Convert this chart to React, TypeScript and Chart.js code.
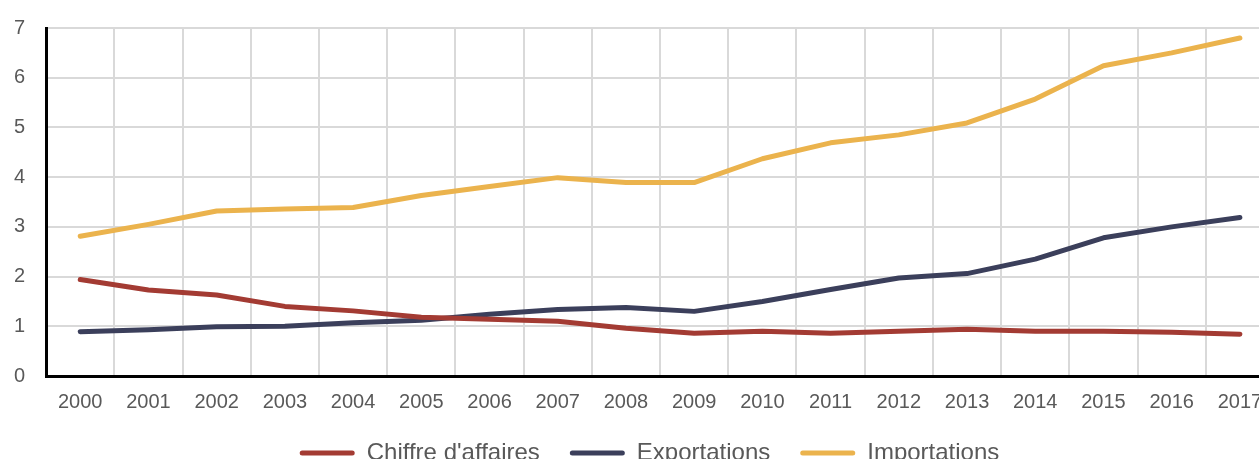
import React, { useEffect, useRef } from "react";
import { Chart, registerables } from "chart.js";

Chart.register(...registerables);

const years = ["2000","2001","2002","2003","2004","2005","2006","2007","2008","2009","2010","2011","2012","2013","2014","2015","2016","2017"];
const chiffreAffaires = [1.94, 1.73, 1.63, 1.40, 1.31, 1.18, 1.14, 1.10, 0.96, 0.86, 0.90, 0.86, 0.90, 0.94, 0.90, 0.90, 0.88, 0.84];
const exportations = [0.89, 0.93, 0.99, 1.00, 1.07, 1.12, 1.24, 1.34, 1.38, 1.30, 1.50, 1.74, 1.97, 2.06, 2.35, 2.78, 3.00, 3.19];
const importations = [2.81, 3.05, 3.32, 3.36, 3.39, 3.63, 3.81, 3.99, 3.89, 3.89, 4.37, 4.69, 4.85, 5.09, 5.57, 6.24, 6.50, 6.80];
const seriesNames = ["Chiffre d'affaires", "Exportations", "Importations"];
const seriesColors = ["#A33B33", "#3B3F5B", "#EBB34D"];

const FONT = "'Liberation Sans', Arial, Helvetica, sans-serif";
const LEGEND_SHIFT_Y = 17;
const LEGEND_SHIFT_X = 16;

const legendShift = {
  id: "legendShift",
  afterLayout(chart: any) {
    const lg = chart.legend;
    if (lg) {
      lg.top -= LEGEND_SHIFT_Y;
      lg.bottom -= LEGEND_SHIFT_Y;
      lg.left += LEGEND_SHIFT_X;
      lg.right += LEGEND_SHIFT_X;
    }
  },
};

export default function App() {
  const ref = useRef<HTMLCanvasElement | null>(null);
  useEffect(() => {
    if (!ref.current) return;
    const values = [chiffreAffaires, exportations, importations];
    const chart = new Chart(ref.current, {
      type: "line",
      data: {
        labels: years,
        datasets: values.map((v, i) => ({
          label: seriesNames[i],
          data: v,
          borderColor: seriesColors[i],
          backgroundColor: seriesColors[i],
          borderWidth: 5,
          pointRadius: 0,
          tension: 0,
          borderCapStyle: "round" as const,
          borderJoinStyle: "round" as const,
        })),
      },
      options: {
        responsive: false,
        animation: false,
        devicePixelRatio: 1,
        layout: { padding: { left: -7, right: 26, top: 22, bottom: 0 } },
        plugins: {
          tooltip: { enabled: false },
          legend: {
            position: "bottom",
            labels: {
              boxWidth: 55,
              boxHeight: 5,
              padding: 30,
              color: "#595959",
              font: { family: FONT, size: 24 },
              generateLabels: (c: any) =>
                c.data.datasets.map((d: any, i: number) => ({
                  text: d.label,
                  fillStyle: d.borderColor,
                  strokeStyle: d.borderColor,
                  lineWidth: 0,
                  fontColor: "#595959",
                  borderRadius: 2.5,
                  datasetIndex: i,
                  hidden: false,
                })),
              useBorderRadius: true,
              borderRadius: 2.5,
            },
          },
        },
        scales: {
          x: {
            offset: true,
            grid: { offset: true, color: "#D9D9D9", lineWidth: 2, drawTicks: false },
            border: { display: true, color: "#000000", width: 3 },
            ticks: { color: "#595959", padding: 14, font: { family: FONT, size: 20 }, maxRotation: 0, autoSkip: false },
          },
          y: {
            min: 0,
            max: 7,
            grid: { color: "#D9D9D9", lineWidth: 2, drawTicks: false },
            border: { display: true, color: "#000000", width: 3 },
            ticks: { stepSize: 1, color: "#595959", padding: 21, font: { family: FONT, size: 20 } },
          },
        },
      },
      plugins: [legendShift],
    } as any);
    return () => chart.destroy();
  }, []);
  return (
    <div style={{ position: "fixed", left: 0, top: 0, width: 1259, height: 459, overflow: "hidden", background: "#fff" }}>
      <canvas ref={ref} width={1300} height={497} style={{ width: 1300, height: 497, display: "block", marginTop: -5 }} />
    </div>
  );
}
